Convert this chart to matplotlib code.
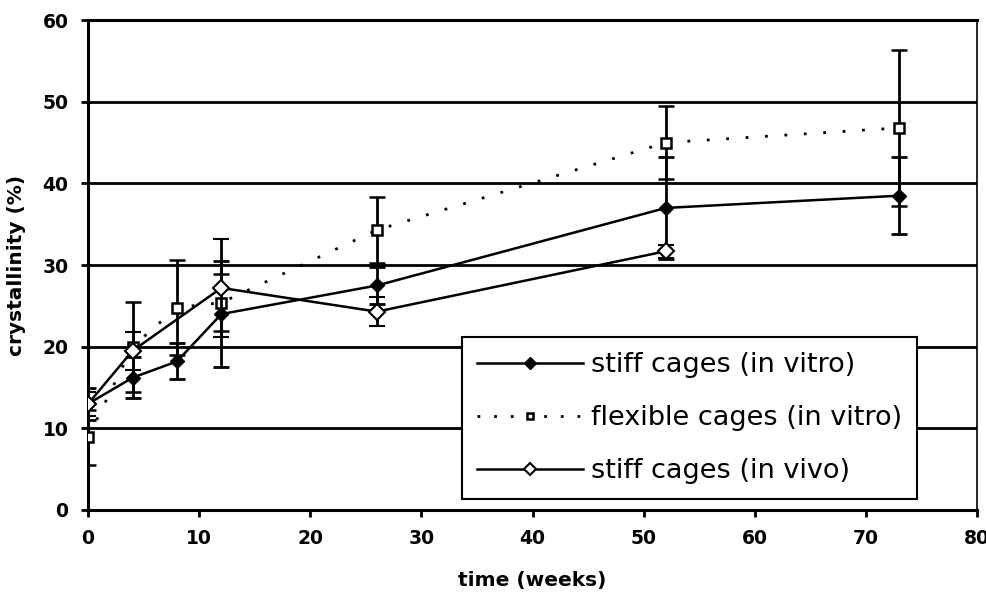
import matplotlib
matplotlib.use("Agg")
import matplotlib.pyplot as plt
from matplotlib.lines import Line2D

# data
t_stiff_vitro = [0, 4, 8, 12, 26, 52, 73]
y_stiff_vitro = [13.0, 16.2, 18.2, 24.0, 27.5, 37.0, 38.5]
e_stiff_vitro = [2.0, 2.5, 2.2, 6.5, 2.3, 6.2, 4.7]

t_flex_vitro = [0, 4, 8, 12, 26, 52, 73]
y_flex_vitro = [8.9, 20.0, 24.8, 25.4, 34.3, 45.0, 46.8]
e_flex_vitro = [3.4, 5.5, 5.8, 3.5, 4.0, 4.5, 9.6]

t_stiff_vivo = [0, 4, 12, 26, 52]
y_stiff_vivo = [13.0, 19.5, 27.2, 24.3, 31.7]
e_stiff_vivo = [1.5, 2.3, 6.0, 1.8, 0.8]

labels = ["stiff cages (in vitro)", "flexible cages (in vitro)", "stiff cages (in vivo)"]
xticks = [0, 10, 20, 30, 40, 50, 60, 70, 80]
yticks = [0, 10, 20, 30, 40, 50, 60]

fig = plt.figure(figsize=(9.86, 5.93), dpi=100)
ax = fig.add_axes([0.0893, 0.14, 0.9017, 0.826])

for yv in yticks[1:-1]:
    ax.axhline(yv, color="black", lw=2, zorder=1)

s1 = dict(color="black", lw=1.8, marker="D", ms=7, mfc="black", mec="black")
s2 = dict(color="black", lw=2, ls=(0, (1, 6)), marker="s", ms=7, mfc="white",
          mec="black", mew=1.8)
s3 = dict(color="black", lw=1.8, marker="D", ms=8, mfc="white", mec="black", mew=1.5)
eb = dict(elinewidth=2, capsize=6, capthick=2)

ax.errorbar(t_stiff_vitro, y_stiff_vitro, yerr=e_stiff_vitro, zorder=3, **s1, **eb)
ax.errorbar(t_flex_vitro, y_flex_vitro, yerr=e_flex_vitro, zorder=3, **s2, **eb)
ax.errorbar(t_stiff_vivo, y_stiff_vivo, yerr=e_stiff_vivo, zorder=4, **s3, **eb)

ax.set_xlim(0, 80)
ax.set_ylim(0, 60)
ax.set_xticks(xticks)
ax.set_yticks(yticks)
ax.tick_params(direction="out", length=5, width=2, labelsize=13.5, pad=9)
for lab in ax.get_xticklabels() + ax.get_yticklabels():
    lab.set_fontweight("bold")

for s in ["left", "bottom", "top"]:
    ax.spines[s].set_linewidth(2.2)
ax.spines["right"].set_linewidth(1.2)

ax.set_xlabel("time (weeks)", fontsize=14.5, fontweight="bold", labelpad=16)
ax.set_ylabel("crystallinity (%)", fontsize=14.5, fontweight="bold", labelpad=12)

h1 = Line2D([], [], **{**s1, "ms": 6})
h2 = Line2D([], [], **{**s2, "ms": 5, "ls": (0, (1, 5))})
h3 = Line2D([], [], **{**s3, "ms": 6})
leg = ax.legend([h1, h2, h3], labels, loc="lower left", bbox_to_anchor=(0.421, 0.022),
                fontsize=19.5, frameon=True, fancybox=False, edgecolor="black",
                framealpha=1, handlelength=3.9, borderpad=0.55, labelspacing=1.0,
                handletextpad=0.3, borderaxespad=0)
leg.get_frame().set_linewidth(1.5)
leg.set_zorder(10)

fig.savefig("out.png", dpi=100)
